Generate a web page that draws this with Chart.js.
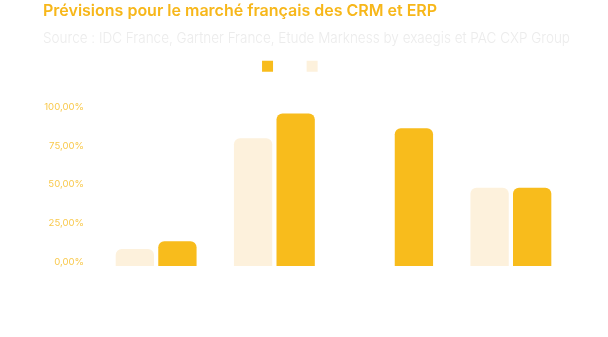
<!DOCTYPE html>
<html lang="fr">
<head>
<meta charset="utf-8">
<script src="https://cdn.jsdelivr.net/npm/chart.js@4/dist/chart.umd.min.js"></script>
<style>
  html, body { margin: 0; padding: 0; background: #fff; }
  #wrap { width: 608px; height: 337px; }
</style>
</head>
<body>
<div id="wrap"><canvas id="marketChart"></canvas></div>
<script>
// categories and series
const categories = ['A', 'B', 'C', 'D'];
const seriesLabels = ['CRM', 'ERP'];
const crmValues = [11, 82.5, null, 50.5];
const erpValues = [16, 98.5, 89, 50.5];
const yTickValues = [0, 25, 50, 75, 100];
const yTickLabels = ['0,00%', '25,00%', '50,00%', '75,00%', '100,00%'];

const ORANGE = '#F8BC1C';
const CREAM = '#FDF1DC';

// pushes the plot down a bit below the legend
const legendMargin = {
    id: 'legendMargin',
    beforeInit(chart) {
        const fit = chart.legend.fit;
        chart.legend.fit = function () {
            fit.bind(chart.legend)();
            this.height += 29;
        };
    }
};

const ctx = document.getElementById('marketChart');
new Chart(ctx, {
    type: 'bar',
    data: {
        labels: categories,
        datasets: [{
            label: seriesLabels[0],
            data: crmValues,
            backgroundColor: CREAM,
            borderRadius: 6,
            borderSkipped: 'start'
        }, {
            label: seriesLabels[1],
            data: erpValues,
            backgroundColor: ORANGE,
            borderRadius: 6,
            borderSkipped: 'start'
        }]
    },
    options: {
        responsive: true,
        maintainAspectRatio: false,
        animation: false,
        categoryPercentage: 0.72,
        barPercentage: 0.9,
        layout: {
            padding: { left: 43, right: 38, top: 0, bottom: 71 }
        },
        plugins: {
            title: {
                display: true,
                text: 'Prévisions pour le marché français des CRM et ERP',
                align: 'start',
                color: '#F7B71A',
                font: { family: 'Inter', size: 16, weight: '600' },
                padding: { top: 2, bottom: 4 }
            },
            subtitle: {
                display: true,
                text: 'Source : IDC France, Gartner France, Etude Markness by exaegis et PAC CXP Group',
                align: 'start',
                color: '#ECECEC',
                font: { family: 'Inter', size: 15, weight: '300' },
                padding: { top: 4, bottom: 8 }
            },
            legend: {
                reverse: true,
                labels: {
                    boxWidth: 11,
                    boxHeight: 11,
                    color: '#FFFFFF',
                    font: { family: 'Inter', size: 12 },
                    padding: 5
                }
            },
            tooltip: { enabled: false }
        },
        scales: {
            x: { display: false },
            y: {
                min: 0,
                max: 100,
                afterBuildTicks(axis) {
                    axis.ticks = yTickValues.map(v => ({ value: v }));
                },
                afterFit(axis) {
                    axis.width = 54;
                },
                grid: { display: false },
                border: { display: false },
                ticks: {
                    color: '#F9C94C',
                    font: { family: 'Inter', size: 9.6 },
                    padding: 5,
                    labelOffset: -4,
                    callback: (value) => yTickLabels[yTickValues.indexOf(value)]
                }
            }
        }
    },
    plugins: [legendMargin]
});
</script>
</body>
</html>
